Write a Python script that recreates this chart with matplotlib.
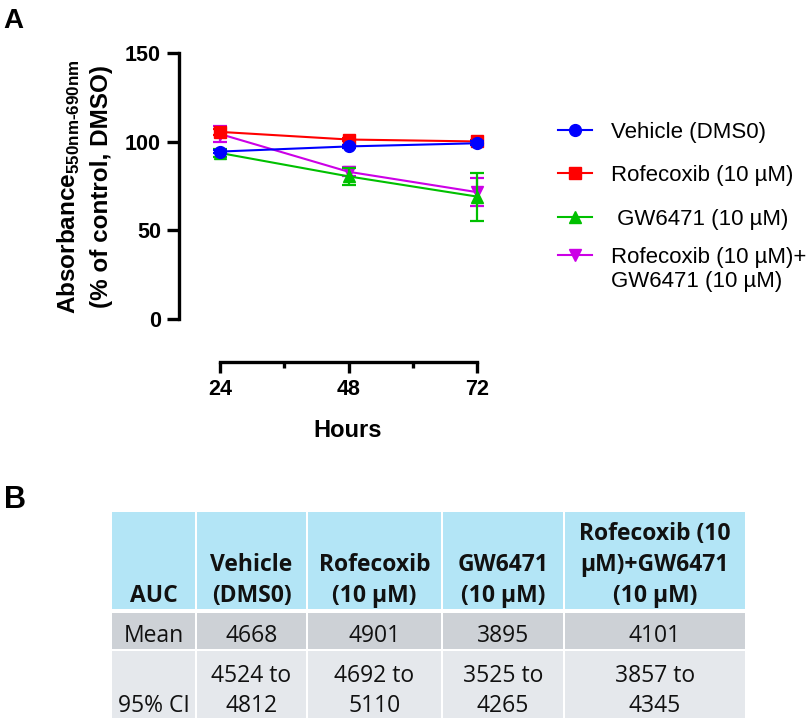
import matplotlib
matplotlib.use('Agg')
import matplotlib.pyplot as plt
from matplotlib.patches import Rectangle
from matplotlib.ticker import FixedLocator

plt.rcParams['font.family'] = ['Liberation Sans', 'DejaVu Sans']

# ---------------- data ----------------
hours = [24, 48, 72]
series_names = ["Vehicle (DMS0)", "Rofecoxib (10 µM)", " GW6471 (10 µM)",
                "Rofecoxib (10 µM)+\nGW6471 (10 µM)"]
vehicle_mean = [94.4, 97.3, 99.1]
vehicle_err = [1.0, 1.0, 1.0]
rofecoxib_mean = [105.5, 101.2, 100.1]
rofecoxib_err = [1.5, 0.8, 0.8]
gw6471_mean = [93.6, 80.4, 69.0]
gw6471_err = [2.0, 5.0, 13.5]
combo_mean = [104.3, 83.0, 71.5]
combo_err = [4.7, 2.5, 8.0]

y_ticks = [0, 50, 100, 150]
x_ticks = [24, 48, 72]
x_minor_ticks = [36, 60]

table_header = ["AUC", "Vehicle\n(DMS0)", "Rofecoxib\n(10 µM)", "GW6471\n(10 µM)",
                "Rofecoxib (10\nµM)+GW6471\n(10 µM)"]
table_mean = ["Mean", "4668", "4901", "3895", "4101"]
table_ci = ["95% CI", "4524 to\n4812", "4692 to\n5110", "3525 to\n4265", "3857 to\n4345"]

# ---------------- figure ----------------
W, H = 809, 723
fig = plt.figure(figsize=(W / 100, H / 100), dpi=100)

ax = fig.add_axes([179 / W, 1 - 362 / H, 311 / W, 309 / H])
ax.set_xlim(16.34, 74.4)
ax.set_ylim(-24.3, 150)

colors = ['#0000FF', '#FF0000', '#00C000', '#CC00E6']
markers = ['o', 's', '^', 'v']
msizes = [8.5, 8.0, 9.0, 9.0]
means = [vehicle_mean, rofecoxib_mean, gw6471_mean, combo_mean]
errs = [vehicle_err, rofecoxib_err, gw6471_err, combo_err]
zorders = [6, 5, 4, 3]

for m, e, c, mk, ms, z in zip(means, errs, colors, markers, msizes, zorders):
    ax.errorbar(hours, m, yerr=e, fmt='none', ecolor=c, elinewidth=1.6,
                capsize=5, capthick=1.6, zorder=z, clip_on=False)
    ax.plot(hours, m, color=c, marker=mk, ms=ms, lw=1.5, zorder=z + 0.5,
            clip_on=False)

for s in ['top', 'right']:
    ax.spines[s].set_visible(False)
ax.spines['left'].set_bounds(0, 150)
ax.spines['bottom'].set_bounds(24, 72)
for s in ['left', 'bottom']:
    ax.spines[s].set_linewidth(2.4)

ax.yaxis.set_major_locator(FixedLocator(y_ticks))
ax.xaxis.set_major_locator(FixedLocator(x_ticks))
ax.xaxis.set_minor_locator(FixedLocator(x_minor_ticks))
ax.tick_params(axis='y', which='major', length=8.6, width=2.4, pad=4.3,
               labelsize=15.5)
ax.tick_params(axis='x', which='major', length=8, width=2.4, pad=4.5,
               labelsize=15.5)
ax.tick_params(axis='x', which='minor', length=4.3, width=2.4)
for lab in ax.get_xticklabels() + ax.get_yticklabels():
    lab.set_fontweight('bold')

# ---------------- overlay in pixel coordinates ----------------
ov = fig.add_axes([0, 0, 1, 1])
ov.set_xlim(0, W)
ov.set_ylim(H, 0)
ov.axis('off')
ov.patch.set_visible(False)

ov.text(3, 28, 'A', fontsize=20, fontweight='bold', va='baseline', ha='left')
ov.text(4, 508, 'B', fontsize=22, fontweight='bold', va='baseline', ha='left')

ov.text(348, 437, 'Hours', fontsize=17, fontweight='bold', ha='center',
        va='baseline')
ov.text(69, 187, 'Absorbance$_{\\mathregular{550nm\u2010690nm}}$', fontsize=17.5,
        fontweight='bold', rotation=90, ha='center', va='center')
ov.text(102, 187, '(% of control, DMSO)', fontsize=17.5, fontweight='bold',
        rotation=90, ha='center', va='center')

# legend
legend_y = [130, 173, 217, 255]
for name, c, mk, ms, y in zip(series_names, colors, markers, msizes, legend_y):
    ov.plot([558, 592], [y, y], color=c, lw=1.5)
    ov.plot([575], [y], color=c, marker=mk, ms=ms)
    for i, line in enumerate(name.split('\n')):
        ov.text(611, y + 8 + i * 24, line, fontsize=16, va='baseline', ha='left')

# table
col_edges = [111, 196, 307, 442, 564, 746]
rows = [
    (table_header, 512, 609, '#B3E5F6', 'bold', 602, 31),
    (table_mean, 613, 649, '#CDD1D6', 'normal', 642, 30),
    (table_ci, 651, 718, '#E5E8EC', 'normal', 712, 30),
]
for cells, y0, y1, bg, weight, base, spacing in rows:
    for j, txt in enumerate(cells):
        x0, x1 = col_edges[j], col_edges[j + 1]
        ov.add_patch(Rectangle((x0 + 1, y0), x1 - x0 - 2, y1 - y0,
                               facecolor=bg, edgecolor='none'))
        lines = txt.split('\n')
        n = len(lines)
        for k, line in enumerate(lines):
            yb = base - (n - 1 - k) * spacing
            ov.text((x0 + x1) / 2, yb, line, fontsize=16.5, fontweight=weight,
                    family=['Open Sans', 'DejaVu Sans'], color='#111111',
                    ha='center', va='baseline')

fig.savefig('out.png', dpi=100)
